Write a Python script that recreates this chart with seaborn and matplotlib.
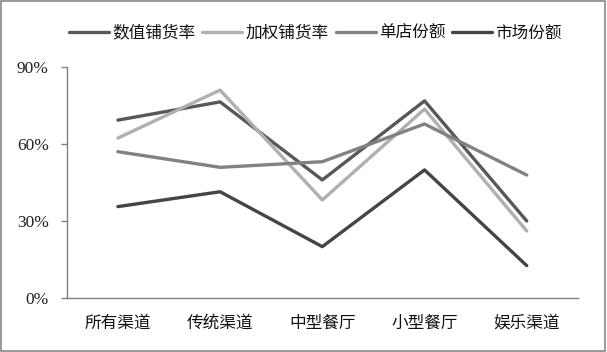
import matplotlib
matplotlib.use("Agg")
import matplotlib.pyplot as plt
import seaborn as sns
import pandas as pd
import numpy as np
from matplotlib.patches import Rectangle
from matplotlib.lines import Line2D
from matplotlib import font_manager as fm

categories = ["所有渠道", "传统渠道", "中型餐厅", "小型餐厅", "娱乐渠道"]
series_names = ["数值铺货率", "加权铺货率", "单店份额", "市场份额"]
numeric_dist = [0.693, 0.764, 0.460, 0.768, 0.300]
weighted_dist = [0.623, 0.810, 0.382, 0.736, 0.261]
store_share = [0.570, 0.509, 0.531, 0.678, 0.479]
market_share = [0.356, 0.414, 0.200, 0.499, 0.126]
y_ticks = [0.0, 0.3, 0.6, 0.9]
y_tick_labels = ["0%", "30%", "60%", "90%"]
colors = ["#585858", "#b0b0b0", "#828282", "#454545"]

rows = []
for name, vals in zip(series_names, [numeric_dist, weighted_dist, store_share, market_share]):
    for i, v in enumerate(vals):
        rows.append({"series": name, "idx": i, "value": v})
df = pd.DataFrame(rows)

sns.set_theme(style="white")
plt.rcParams['font.family'] = ['Noto Sans CJK SC', 'DejaVu Sans']

fig = plt.figure(figsize=(6.07, 3.52), dpi=100)
ax = fig.add_axes([0.110, 0.1534, 0.842, 0.6563])

sns.lineplot(data=df, x="idx", y="value", hue="series", hue_order=series_names,
             palette=colors, linewidth=2.4, ax=ax, legend=False)

ax.set_xlim(-0.5, 4.5)
ax.set_ylim(0, 0.9)
ax.set_xlabel("")
ax.set_ylabel("")

serif_fp = fm.FontProperties(family=["Liberation Serif", "DejaVu Serif"], size=12.5)
ax.set_yticks(y_ticks)
ax.set_yticklabels(y_tick_labels, fontproperties=serif_fp, color="#222222")
ax.set_xticks(range(len(categories)))
ax.set_xticklabels(categories, fontsize=12, color="#111111")
ax.set_xticks(np.arange(-0.5, 5.0, 1.0), minor=True)
ax.tick_params(axis="x", which="major", length=0, pad=12)
ax.tick_params(axis="x", which="minor", length=4, width=1, color="#808080", direction="out")
ax.tick_params(axis="y", which="major", length=4, width=1, color="#808080", direction="out", pad=9, left=True)

for s in ["top", "right"]:
    ax.spines[s].set_visible(False)
for s in ["left", "bottom"]:
    ax.spines[s].set_color("#808080")
    ax.spines[s].set_linewidth(1)

handles = [Line2D([0], [0], color=c, lw=2.4) for c in colors]
leg = fig.legend(handles, series_names, loc="center", bbox_to_anchor=(0.52, 0.906), ncol=4,
                 frameon=False, fontsize=12, handlelength=2.4, handletextpad=0.2,
                 columnspacing=0.4)
for t in leg.get_texts():
    t.set_color("#111111")

fig.patches.append(Rectangle((0.002, 0.002), 0.995, 0.995, transform=fig.transFigure,
                             fill=False, edgecolor="#888888", linewidth=1.2))

fig.savefig("out.png", dpi=100)
